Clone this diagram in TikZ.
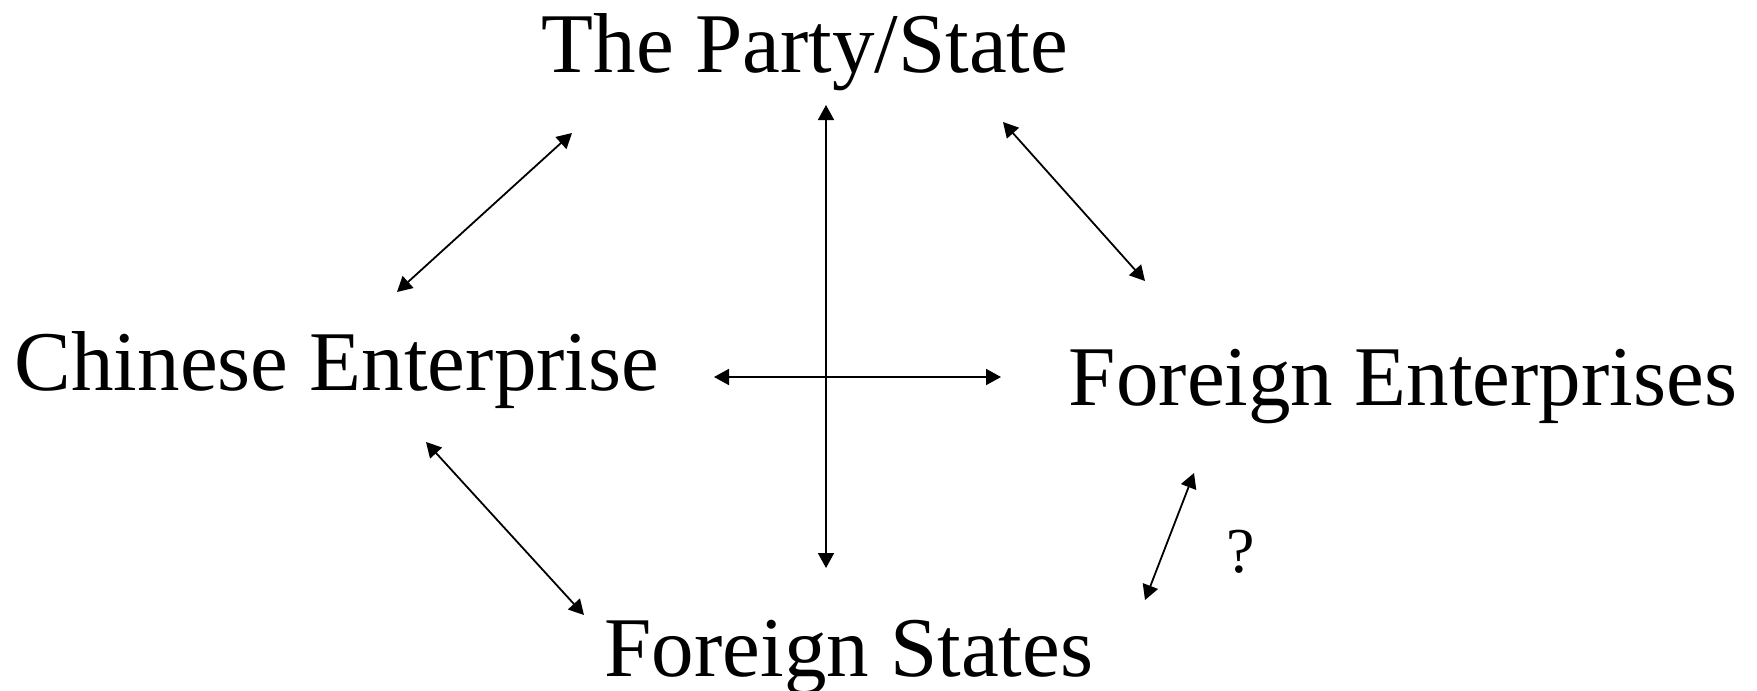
\documentclass[tikz,border=0pt]{standalone}
\usepackage{fontspec}
\setmainfont{Liberation Serif}
\usetikzlibrary{arrows.meta}
\begin{document}
\begin{tikzpicture}[x=0.5pt,y=-0.5pt,
  lbl/.style={anchor=base,inner sep=0pt,font=\fontsize{42.5}{50}\selectfont},
  qlbl/.style={anchor=base,inner sep=0pt,font=\fontsize{32}{38}\selectfont},
  link/.style={line width=0.9pt,{Triangle[length=7.5pt,width=8pt]}-{Triangle[length=7.5pt,width=8pt]}}]
\useasboundingbox (0,0) rectangle (1757,691);
\node[lbl] (party) at (805,72) {The Party/State};
\node[lbl] (chent) at (337,390) {Chinese Enterprise};
\node[lbl] (foent) at (1403,405) {Foreign Enterprises};
\node[lbl] (fost) at (849,676) {Foreign States};
\node[qlbl] (q) at (1241,572) {?};
\coordinate (a1) at (397,292); \coordinate (b1) at (572,133);
\coordinate (a2) at (826,105); \coordinate (b2) at (826,568);
\coordinate (a3) at (1003,122); \coordinate (b3) at (1145,281);
\coordinate (a4) at (714,377); \coordinate (b4) at (1001,377);
\coordinate (a5) at (426,442); \coordinate (b5) at (584,615);
\coordinate (a6) at (1194,473); \coordinate (b6) at (1145,600);
\draw[link] (a1) -- (b1);
\draw[link] (a2) -- (b2);
\draw[link] (a3) -- (b3);
\draw[link] (a4) -- (b4);
\draw[link] (a5) -- (b5);
\draw[link] (a6) -- (b6);
\end{tikzpicture}
\end{document}
